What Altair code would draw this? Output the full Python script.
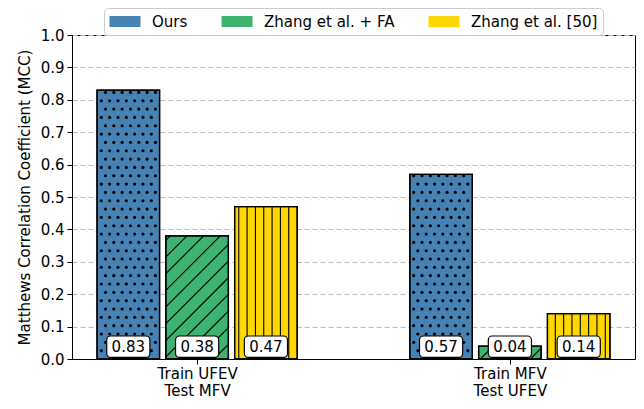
import altair as alt
import pandas as pd

# ---------------- data ----------------
groups = [["Train UFEV", "Test MFV"], ["Train MFV", "Test UFEV"]]
series = ["Ours", "Zhang et al. + FA", "Zhang et al. [50]"]
colors = ["#4682B4", "#3CB371", "#FFD700"]
ours = [0.83, 0.57]
zhang_fa = [0.38, 0.04]
zhang = [0.47, 0.14]
y_ticks = [0.0, 0.1, 0.2, 0.3, 0.4, 0.5, 0.6, 0.7, 0.8, 0.9, 1.0]

values = [ours, zhang_fa, zhang]
rows = []
for s, name in enumerate(series):
    for g in range(len(groups)):
        rows.append({"g": g, "s": s, "series": name, "v": values[s][g]})
df = pd.DataFrame(rows)

# ---------------- geometry / style ----------------
W, H = 563, 324
XMIN, XMAX = -0.4, 1.4
BW, OFF = 0.2, 0.22
PX = W / (XMAX - XMIN)   # px per x unit
PY = H / 1.0             # px per y unit
HATCH = 8.33             # px
FONT = "DejaVu Sans"
FS = 15

xs = alt.Scale(domain=[XMIN, XMAX], nice=False, zero=False)
ys = alt.Scale(domain=[0, 1], nice=False, zero=True)

base = alt.Chart(df).transform_calculate(
    xc=f"datum.g + (datum.s - 1) * {OFF}",
    x0=f"datum.g + (datum.s - 1) * {OFF} - {BW / 2}",
    x1=f"datum.g + (datum.s - 1) * {OFF} + {BW / 2}",
    zero="0",
    b0="0.005",
    b1="0.071",
    ty="0.038",
)

label_expr = "split(" + "".join(
    f"datum.value < {i + 0.5} ? '{'|'.join(lines)}' : " for i, lines in enumerate(groups[:-1])
) + f"'{'|'.join(groups[-1])}', '|')"

xaxis = alt.Axis(
    values=list(range(len(groups))),
    labelExpr=label_expr,
    title=None,
    grid=False,
    tickSize=5,
    tickColor="black",
    domainColor="black",
    labelPadding=2,
    labelBaseline="top",
    labelLineHeight=17.5,
    labelFont=FONT,
    labelFontSize=FS,
    labelColor="black",
)
yaxis = alt.Axis(
    values=y_ticks,
    format=".1f",
    title="Matthews Correlation Coefficient (MCC)",
    titleFont=FONT,
    titleFontSize=FS,
    titleFontWeight="normal",
    titleColor="black",
    titlePadding=8,
    grid=True,
    gridDash=[5, 3],
    gridColor="#b8b8b8",
    gridWidth=1,
    tickSize=5,
    tickColor="black",
    domainColor="black",
    labelPadding=3,
    labelFont=FONT,
    labelFontSize=FS,
    labelColor="black",
)


def X(field):
    return alt.X(field, scale=xs, axis=xaxis)


def Y(field):
    return alt.Y(field, scale=ys, axis=yaxis)


# legend symbols (patch with hatch drawn in the path)
rect_p = "M-1,-0.35H1V0.35H-1Z"


def dot(x, y, r=0.04):
    return f"M{x - r:.3f},{y - r:.3f}h{2 * r:.3f}v{2 * r:.3f}h{-2 * r:.3f}Z"


dots_p = rect_p + "".join(dot(x, -0.3) for x in (-0.8, -0.27, 0.27, 0.8)) + "".join(
    dot(x, 0.24) for x in (-0.54, 0.0, 0.54)
)
diag_p = rect_p + "M-0.05,0.35L0.65,-0.35M-1,0.225L-0.425,-0.35"
vert_p = rect_p + "M-0.5,-0.35V0.35M0,-0.35V0.35M0.5,-0.35V0.35"
shape_paths = [dots_p, diag_p, vert_p]

legend = alt.Legend(
    orient="none",
    legendX=32,
    legendY=-27,
    direction="horizontal",
    title=None,
    symbolSize=961,
    symbolStrokeColor="black",
    symbolStrokeWidth=1,
    symbolOpacity=1,
    labelFont=FONT,
    labelFontSize=FS,
    labelColor="black",
    labelOffset=11,
    columnPadding=33,
    padding=5,
    clipHeight=17,
    strokeColor="#cccccc",
    fillColor="white",
    cornerRadius=4,
)
fill_enc = alt.Fill("series:N", scale=alt.Scale(domain=series, range=colors), legend=legend)

bars = base.mark_rect(stroke="black", strokeWidth=1.3).encode(
    x=X("x0:Q"), x2="x1:Q", y=Y("v:Q"), y2="zero:Q", fill=fill_enc
)

DX = HATCH / PX
DY = HATCH / PY
dots = (
    base.transform_filter("datum.s == 0")
    .transform_calculate(row=f"sequence(1, floor(datum.v / {DY}) + 1)")
    .transform_flatten(["row"])
    .transform_calculate(col=f"sequence(floor(datum.x0 / {DX}) - 1, ceil(datum.x1 / {DX}) + 2)")
    .transform_flatten(["col"])
    .transform_calculate(
        px=f"(datum.col + (datum.row % 2) * 0.5) * {DX}",
        py=f"datum.row * {DY}",
    )
    .transform_filter(
        f"datum.px >= datum.x0 + {1.5 / PX} && datum.px <= datum.x1 - {1.5 / PX} && datum.py <= datum.v - {1.0 / PY}"
    )
    .mark_point(filled=True, color="black", size=10, opacity=1, shape="circle")
    .encode(x=X("px:Q"), y=Y("py:Q"))
)

S = 2 * HATCH
diag = (
    base.transform_filter("datum.s == 1")
    .transform_calculate(L=f"datum.x0 * {PX}", R=f"datum.x1 * {PX}", T=f"datum.v * {PY}")
    .transform_calculate(k=f"sequence(ceil((datum.L - datum.T) / {S}), floor(datum.R / {S}) + 1)")
    .transform_flatten(["k"])
    .transform_calculate(c=f"datum.k * {S}")
    .transform_calculate(sxp="max(datum.c, datum.L)", exp="min(datum.R, datum.T + datum.c)")
    .transform_filter("datum.exp - datum.sxp > 0.5")
    .transform_calculate(
        sx=f"datum.sxp / {PX}",
        sy=f"(datum.sxp - datum.c) / {PY}",
        ex=f"datum.exp / {PX}",
        ey=f"(datum.exp - datum.c) / {PY}",
    )
    .mark_rule(color="black", strokeWidth=1.1)
    .encode(x=X("sx:Q"), y=Y("sy:Q"), x2="ex:Q", y2="ey:Q")
)

vert = (
    base.transform_filter("datum.s == 2")
    .transform_calculate(col=f"sequence(ceil(datum.x0 / {DX}), floor(datum.x1 / {DX}) + 1)")
    .transform_flatten(["col"])
    .transform_calculate(lx=f"datum.col * {DX}")
    .transform_filter(f"datum.lx > datum.x0 + {1.5 / PX} && datum.lx < datum.x1 - {1.5 / PX}")
    .mark_rule(color="black", strokeWidth=1.1)
    .encode(x=X("lx:Q"), y=Y("zero:Q"), y2="v:Q")
)

outline = base.mark_rect(fillOpacity=0, stroke="black", strokeWidth=1.3).encode(
    x=X("x0:Q"), x2="x1:Q", y=Y("v:Q"), y2="zero:Q"
)

boxes = base.mark_rect(fill="white", stroke="black", strokeWidth=1.2, cornerRadius=4).transform_calculate(
    bx0="datum.xc - 0.069", bx1="datum.xc + 0.069"
).encode(x=X("bx0:Q"), x2="bx1:Q", y=Y("b0:Q"), y2="b1:Q")

texts = base.mark_text(font=FONT, fontSize=FS, baseline="middle", align="center", color="black").encode(
    x=X("xc:Q"), y=Y("ty:Q"), text=alt.Text("v:Q", format=".2f")
)

# invisible layer that carries the legend
legend_layer = base.mark_point(filled=True, stroke="black", strokeWidth=1, opacity=0).encode(
    x=X("xc:Q"),
    y=Y("v:Q"),
    fill=fill_enc,
    shape=alt.Shape("series:N", scale=alt.Scale(domain=series, range=shape_paths), legend=legend),
)

chart = (
    alt.layer(bars, dots, diag, vert, outline, boxes, texts, legend_layer)
    .properties(
        width=W,
        height=H,
        autosize=alt.AutoSizeParams(type="none"),
        padding={"left": 64, "top": 27, "right": 1, "bottom": 42},
    )
    .configure(font=FONT, view=alt.ViewConfig(stroke="black", strokeWidth=1))
)

chart.save("out.html", embed_options={"renderer": "svg", "actions": False})
